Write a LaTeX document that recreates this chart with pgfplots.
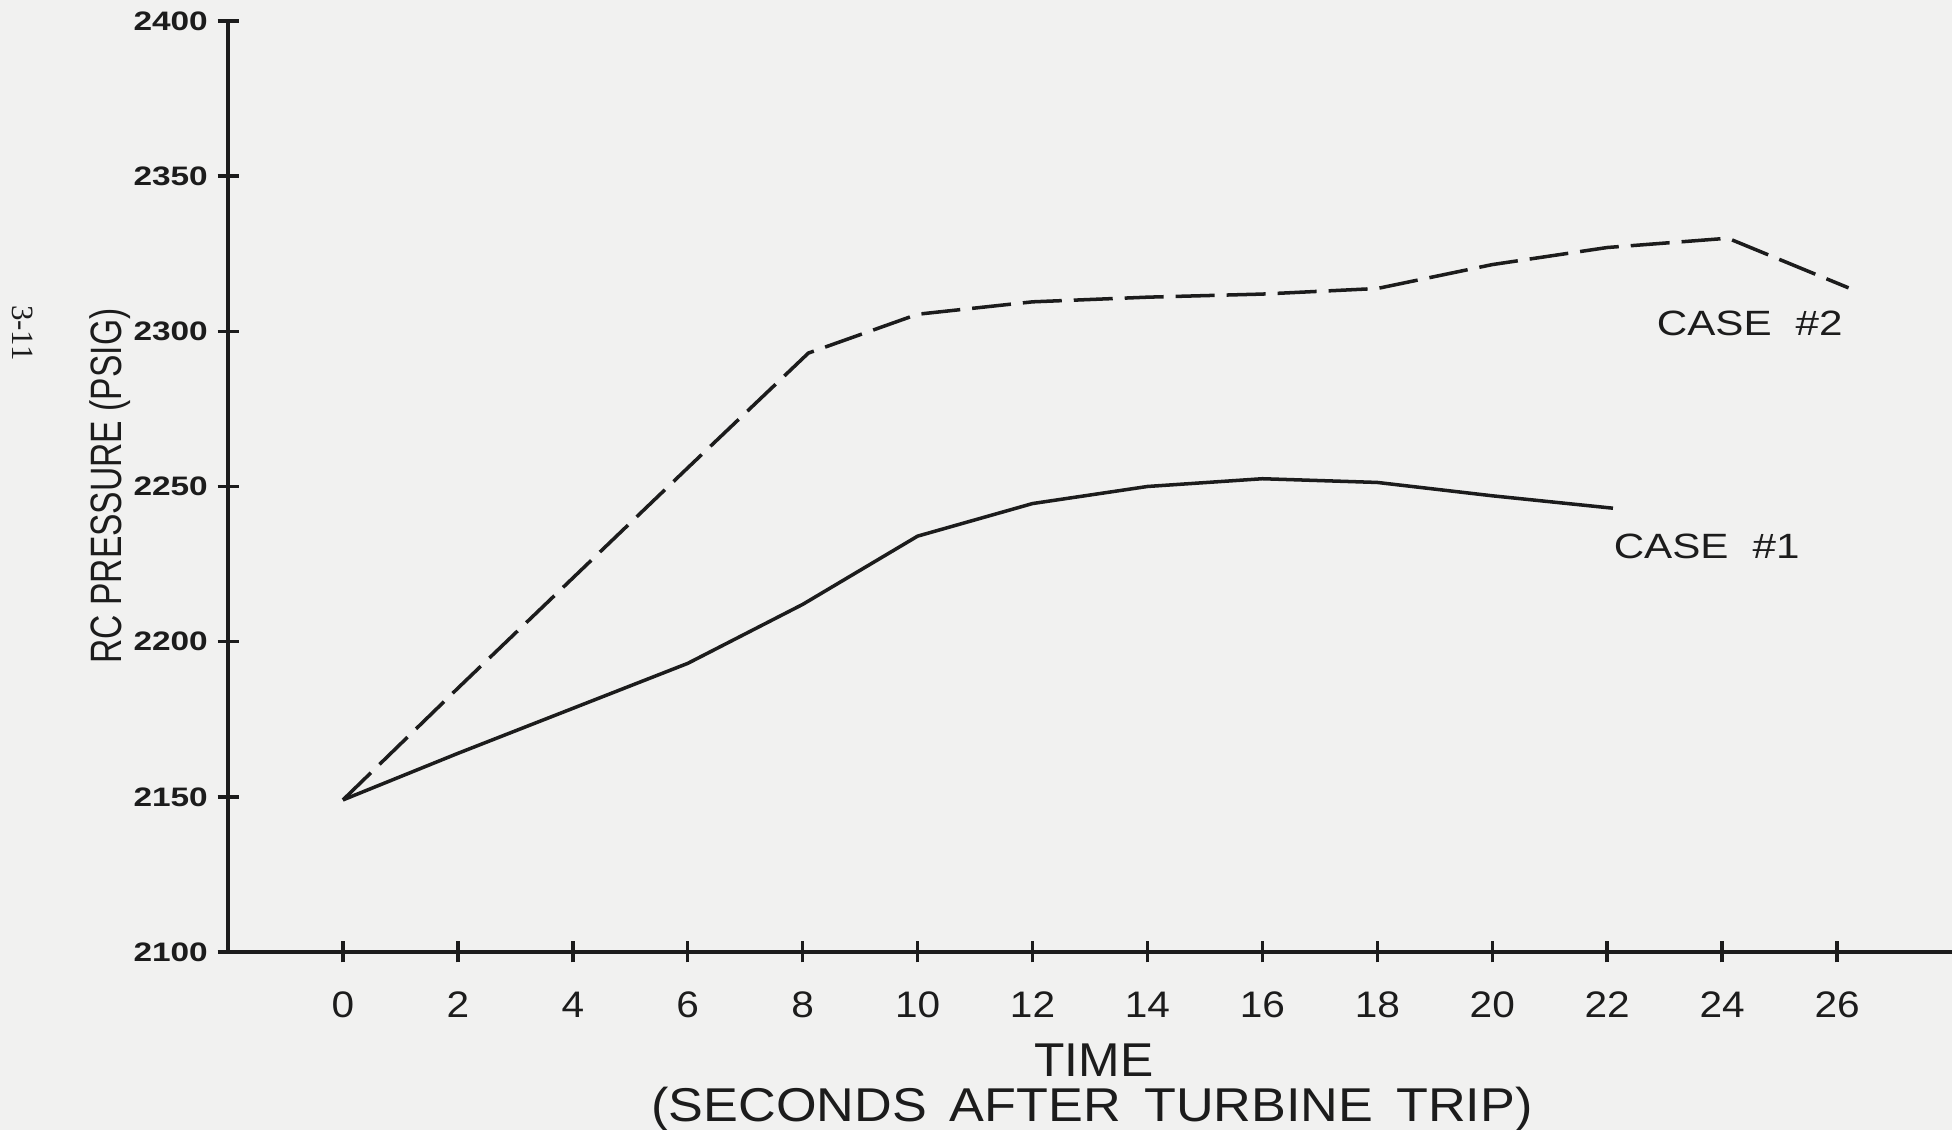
\documentclass[border=0pt]{standalone}
\usepackage{pgfplots}
\pgfplotsset{compat=1.18}
\usepackage{fontspec}
\setmainfont{Liberation Sans}
\newfontfamily\pagefont{Liberation Serif}
\definecolor{paper}{RGB}{241,241,240}
\definecolor{ink}{RGB}{28,28,28}

\begin{document}
\begin{tikzpicture}
\fill[paper] (-2.28,-1.78) rectangle (17.24,9.52);
\begin{axis}[
    at={(0,0)}, anchor=south west,
    scale only axis,
    width=17.24cm, height=9.31cm,
    xmin=-2, xmax=28, ymin=2100, ymax=2400,
    axis lines=left,
    axis line style={-, line width=1.1pt, ink},
    xtick={0,2,...,26},
    ytick={2100,2150,...,2400},
    tick align=center,
    major tick length=0.21cm,
    tick style={line width=1pt, ink},
    /pgf/number format/assume math mode=true,
    /pgf/number format/1000 sep={},
    xticklabel style={font=\fontsize{10.5}{11}\selectfont, text=ink, xscale=1.1, anchor=base, yshift=-5.5mm},
    yticklabel style={font=\bfseries\fontsize{9.5}{10}\selectfont, text=ink, yscale=0.8, anchor=east, inner xsep=0pt, xshift=-0.9mm},
    clip=false,
]
% case 1, solid
\addplot[ink, line width=1pt] coordinates {
    (0,2149) (2,2164) (4,2178.5) (6,2193) (8,2212) (10,2234) (12,2244.5)
    (14,2250) (16,2252.5) (18,2251.3) (20,2247) (22.1,2243)
};
% case 2, dashed
\addplot[ink, line width=1pt, dash pattern=on 3.9mm off 1.2mm] coordinates {
    (0,2149) (2,2185) (4,2220.5) (6,2256) (8.1,2293) (10,2305.5) (12,2309.5)
    (14,2311) (16,2312) (18,2313.8) (20,2321.5) (22,2327) (24.1,2330) (26.2,2314)
};
\node[font=\fontsize{10}{10}\selectfont, text=ink] at (axis cs:24.48,2302.4) {\scalebox{1.2}[1]{CASE\hspace{2mm}\#2}};
\node[font=\fontsize{10}{10}\selectfont, text=ink] at (axis cs:23.73,2230.8) {\scalebox{1.2}[1]{CASE\hspace{2mm}\#1}};
\end{axis}
\node[rotate=90, font=\fontsize{12.5}{12}\selectfont, text=ink] at (-1.18,4.66) {\scalebox{0.765}[1]{RC PRESSURE (PSIG)}};
\node[anchor=base, font=\fontsize{13.5}{14}\selectfont, text=ink] at (8.66,-1.25) {\scalebox{1.05}[1]{TIME}};
\node[anchor=base, font=\fontsize{13.5}{14}\selectfont, text=ink] at (8.64,-1.70) {\scalebox{1.1}[1]{(SECONDS\hspace{2.1mm}AFTER\hspace{2.1mm}TURBINE\hspace{2.1mm}TRIP)}};
\node[rotate=-90, font=\pagefont\fontsize{8.8}{9}\selectfont, text=ink] at (-2.05,6.19) {3-11};
\pgfresetboundingbox
\useasboundingbox (-2.28,-1.78) rectangle (17.24,9.52);
\end{tikzpicture}
\end{document}
